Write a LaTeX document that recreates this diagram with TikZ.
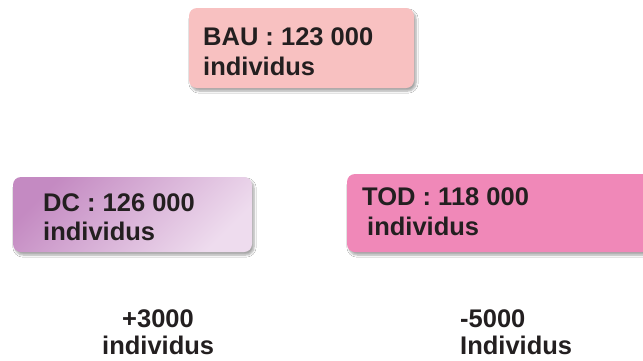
\documentclass[tikz,border=0pt]{standalone}
\usepackage{fontspec}
\setmainfont{Liberation Sans}
\usetikzlibrary{shadows.blur}
\definecolor{txt}{HTML}{231F20}
\definecolor{baufill}{HTML}{F8C1C1}
\definecolor{dcA}{HTML}{C48AC2}
\definecolor{dcB}{HTML}{EEDCEE}
\definecolor{todfill}{HTML}{F088B8}
\tikzset{
  box/.style={rectangle, rounded corners=8pt, inner sep=0pt, draw=none,
    blur shadow={shadow xshift=2pt, shadow yshift=-3pt, shadow blur steps=6, shadow opacity=35}},
  lbl/.style={anchor=base west, inner sep=0pt, text=txt, font=\fontsize{25.5}{30}\selectfont\bfseries}
}
\begin{document}
\begin{tikzpicture}[x=1pt,y=-1pt]
\useasboundingbox[fill=white] (0,0) rectangle (643,360);
% boxes
\node[box, fill=baufill, minimum width=225pt, minimum height=80pt] (bau) at (301.5,48) {};
\node[box, top color=dcA, bottom color=dcB, shading angle=45, minimum width=239pt, minimum height=75pt] (dc) at (132.5,214.5) {};
\node[box, fill=todfill, minimum width=303pt, minimum height=78pt] (tod) at (498.5,213) {};
% texts
\node[lbl] (bau1) at (203,45.5) {BAU : 123 000};
\node[lbl] (bau2) at (203,75.5) {individus};
\node[lbl] (dc1) at (43,211) {DC : 126 000};
\node[lbl] (dc2) at (43,240) {individus};
\node[lbl] (tod1) at (362,205) {TOD : 118 000};
\node[lbl] (tod2) at (367,235) {individus};
\node[lbl] (p1) at (122,327) {+3000};
\node[lbl] (p2) at (102,354) {individus};
\node[lbl] (m1) at (460,327) {-5000};
\node[lbl] (m2) at (460,354) {Individus};
\end{tikzpicture}
\end{document}
